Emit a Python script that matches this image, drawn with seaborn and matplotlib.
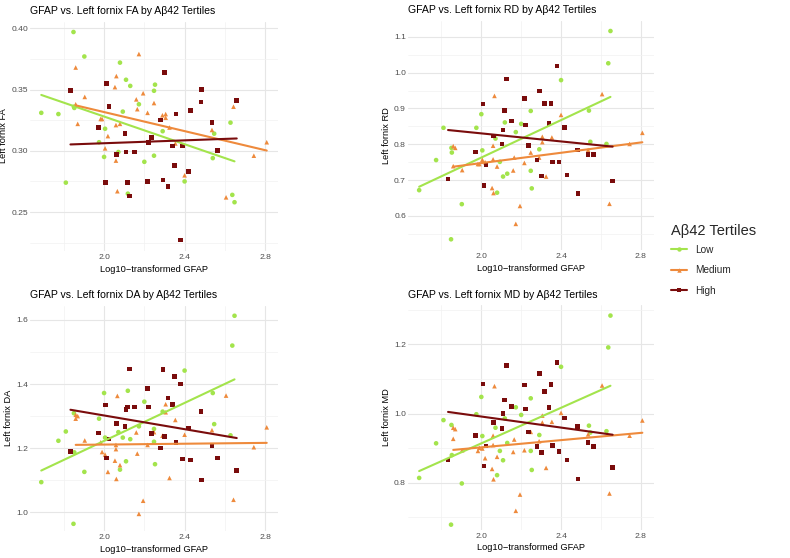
import numpy as np
import pandas as pd
import matplotlib
matplotlib.use("Agg")
import matplotlib.pyplot as plt
import seaborn as sns
from matplotlib.lines import Line2D
from matplotlib.ticker import MultipleLocator, FormatStrFormatter

sns.set_theme(style="white")
plt.rcParams["font.family"] = ["Liberation Sans", "DejaVu Sans"]

groups = ["Low", "Medium", "High"]
colors = {"Low": "#A3E44C", "Medium": "#EE8A3C", "High": "#7A0C0C"}
markers = {"Low": "o", "Medium": "^", "High": "s"}

# ---- Low tertile ----
low_gfap = [1.688, 1.773, 1.810, 1.848, 1.850, 1.852, 1.902, 1.975, 2.000, 2.005, 2.071, 2.079, 2.093, 2.109,
            2.118, 2.130, 2.173, 2.200, 2.248, 2.248, 2.253, 2.291, 2.400, 2.540, 2.547, 2.628, 2.637, 2.648]
low_fa = [.331, .330, .274, .397, .336, .335, .377, .307, .295, .318, .299, .372, .332, .358,
          .265, .353, .338, .291, .296, .349, .354, .316, .275, .294, .314, .323, .264, .258]
low_rd = [.672, .756, .846, .535, .790, .777, .633, .846, .884, .783, .816, .665, .751, .710,
          .861, .718, .834, .857, .893, .726, .677, .786, .979, .894, .807, .801, 1.026, 1.116]
low_da = [1.094, 1.223, 1.252, 0.964, 1.309, 1.187, 1.126, 1.292, 1.372, 1.233, 1.250, 1.133, 1.233, 1.159,
          1.379, 1.228, 1.268, 1.345, 1.260, 1.220, 1.150, 1.314, 1.442, 1.372, 1.275, 1.240, 1.520, 1.613]
low_md = [0.814, 0.914, 0.981, 0.679, 0.967, 0.880, 0.798, 0.998, 1.048, 0.935, 0.959, 0.822, 0.892, 0.865,
          0.986, 0.915, 1.018, 0.996, 1.044, 0.892, 0.837, 0.938, 1.135, 0.965, 0.945, 0.949, 1.191, 1.283]

# ---- Medium tertile ----
med_gfap = [1.859, 1.859, 1.869, 1.904, 1.983, 1.990, 2.005, 2.019, 2.054, 2.059, 2.059, 2.061, 2.066, 2.079,
            2.160, 2.165, 2.173, 2.194, 2.216, 2.248, 2.290, 2.306, 2.306, 2.325, 2.354, 2.400, 2.536, 2.606,
            2.643, 2.744, 2.808]
med_fa = [.368, .338, .322, .344, .326, .326, .302, .312, .352, .321, .292, .361, .267, .322,
          .342, .334, .379, .347, .331, .339, .329, .330, .327, .319, .306, .280, .317, .262,
          .336, .296, .307]
med_rd = [.739, .795, .790, .728, .745, .745, .757, .750, .678, .758, .796, .664, .935, .738,
          .727, .763, .578, .628, .748, .777, .763, .806, .821, .710, .819, .882, .784, .940,
          .634, .801, .832]
med_da = [1.292, 1.304, 1.300, 1.224, 1.218, 1.188, 1.180, 1.126, 1.161, 1.210, 1.197, 1.104, 1.363, 1.147,
          1.249, 1.183, 0.995, 1.036, 1.210, 1.250, 1.239, 1.312, 1.337, 1.107, 1.288, 1.242, 1.256, 1.364,
          1.039, 1.203, 1.265]
med_md = [0.927, 0.959, 0.955, 0.894, 0.892, 0.901, 0.899, 0.871, 0.840, 0.909, 0.936, 0.810, 1.079, 0.875,
          0.889, 0.925, 0.719, 0.766, 0.894, 0.947, 0.920, 0.974, 0.994, 0.843, 0.976, 1.002, 0.940, 1.081,
          0.769, 0.936, 0.980]

# ---- High tertile ----
high_gfap = [1.833, 1.971, 2.008, 2.013, 2.024, 2.061, 2.104, 2.109, 2.115, 2.125, 2.152, 2.216, 2.222, 2.236,
             2.280, 2.293, 2.301, 2.318, 2.339, 2.350, 2.357, 2.379, 2.389, 2.418, 2.429, 2.482, 2.485, 2.536,
             2.564, 2.659]
high_fa = [.349, .319, .274, .355, .336, .297, .314, .299, .274, .263, .299, .275, .307, .311,
           .325, .276, .364, .271, .304, .288, .330, .227, .304, .283, .333, .340, .350, .323,
           .300, .341]
high_rd = [.703, .779, .912, .685, .742, .823, .801, .840, .894, .982, .865, .928, .854, .796,
           .756, .949, .712, .914, .858, .914, .751, 1.018, .751, .847, .714, .784, .663, .772,
           .772, .698]
high_da = [1.190, 1.247, 1.335, 1.169, 1.228, 1.276, 1.268, 1.320, 1.328, 1.447, 1.328, 1.387, 1.328, 1.245,
           1.200, 1.446, 1.237, 1.356, 1.337, 1.423, 1.218, 1.400, 1.166, 1.263, 1.163, 1.314, 1.101, 1.209,
           1.169, 1.131]
high_md = [0.866, 0.937, 1.085, 0.848, 0.906, 0.974, 0.957, 1.000, 1.039, 1.138, 1.020, 1.082, 1.013, 0.947,
           0.904, 1.116, 0.887, 1.063, 1.018, 1.084, 0.908, 1.147, 0.891, 0.987, 0.866, 0.962, 0.811, 0.917,
           0.904, 0.844]

frames = []
for g, x, fa, rd, da, md in [
    ("Low", low_gfap, low_fa, low_rd, low_da, low_md),
    ("Medium", med_gfap, med_fa, med_rd, med_da, med_md),
    ("High", high_gfap, high_fa, high_rd, high_da, high_md),
]:
    frames.append(pd.DataFrame({"group": g, "gfap": x, "FA": fa, "RD": rd, "DA": da, "MD": md}))
df = pd.concat(frames, ignore_index=True)
df["group"] = pd.Categorical(df["group"], categories=groups, ordered=True)

W, H = 790, 558
fig = plt.figure(figsize=(W / 100, H / 100), dpi=100)
fig.patch.set_facecolor("white")


def add_ax(l, t, r, b):
    return fig.add_axes([l / W, 1 - b / H, (r - l) / W, (b - t) / H])


# metric, panel box (px), y major step, y minor step, tick format, explicit y-limits (None = auto)
panels = [
    ("FA", (30, 21.6, 278, 250.6), 0.05, 0.025, "%.2f", None),
    ("RD", (408, 20.6, 653.5, 249.7), 0.1, 0.05, "%.1f", None),
    ("DA", (30, 305.5, 278, 531.0), 0.2, 0.1, "%.1f", (0.9416, 1.645)),
    ("MD", (408, 305.2, 653.5, 529.5), 0.2, 0.1, "%.1f", (0.665, 1.313)),
]

grid_major = "#E6E6E6"
grid_minor = "#F2F2F2"

for metric, box, ymaj, ymin, fmt, ylim in panels:
    ax = add_ax(*box)
    ax.set_facecolor("white")
    sns.scatterplot(data=df, x="gfap", y=metric, hue="group", style="group",
                    palette=colors, markers=markers, s=11, linewidth=0,
                    legend=False, ax=ax, zorder=3)
    for g in groups:
        sub = df[df["group"] == g]
        sns.regplot(data=sub, x="gfap", y=metric, scatter=False, ci=None,
                    color=colors[g], line_kws={"lw": 1.5, "zorder": 4}, ax=ax, truncate=True)
    ax.margins(x=0.05, y=0.05)
    ax.autoscale_view()
    if ylim is not None:
        ax.set_ylim(*ylim)
    ax.xaxis.set_major_locator(MultipleLocator(0.4))
    ax.xaxis.set_minor_locator(MultipleLocator(0.2))
    ax.yaxis.set_major_locator(MultipleLocator(ymaj))
    ax.yaxis.set_minor_locator(MultipleLocator(ymin))
    ax.xaxis.set_major_formatter(FormatStrFormatter("%.1f"))
    ax.yaxis.set_major_formatter(FormatStrFormatter(fmt))
    ax.grid(which="major", color=grid_major, lw=0.8, zorder=0)
    ax.grid(which="minor", color=grid_minor, lw=0.5, zorder=0)
    ax.set_axisbelow(True)
    for s in ax.spines.values():
        s.set_visible(False)
    ax.tick_params(which="both", length=0, labelsize=6.1, labelcolor="#4D4D4D")
    ax.tick_params(axis="y", pad=1.5)
    ax.tick_params(axis="x", pad=2.5)
    ax.set_xlabel("Log10\u2212transformed GFAP", fontsize=6.7, color="black", labelpad=2.5)
    ax.set_ylabel(f"Left fornix {metric}", fontsize=6.7, color="black", labelpad=2.0)
    ax.set_title(f"GFAP vs. Left fornix {metric} by A\u03b242 Tertiles", fontsize=7.6,
                 loc="left", color="black", pad=5.5)

handles = [Line2D([0], [0], color=colors[g], marker=markers[g], lw=1.5, markersize=3.2,
                  markeredgewidth=0) for g in groups]
leg = fig.legend(handles, groups, title="A\u03b242 Tertiles", loc="upper left",
                 bbox_to_anchor=(662 / W, 1 - 215 / H), frameon=False, fontsize=7.2,
                 title_fontsize=10.5, handlelength=1.6, labelspacing=1.05, handletextpad=0.8,
                 alignment="left")
leg._legend_box.sep = 5

fig.savefig("out.png", dpi=100, facecolor="white")
